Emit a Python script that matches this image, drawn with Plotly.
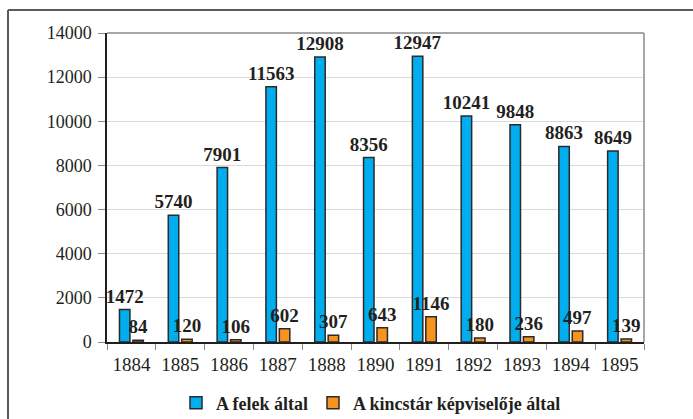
import plotly.graph_objects as go

years = ["1884", "1885", "1886", "1887", "1888", "1890", "1891", "1892", "1893", "1894", "1895"]
felek = [1472, 5740, 7901, 11563, 12908, 8356, 12947, 10241, 9848, 8863, 8649]
kincstar = [84, 120, 106, 602, 307, 643, 1146, 180, 236, 497, 139]
series_names = ["A felek által", "A kincstár képviselője által"]
y_ticks = [0, 2000, 4000, 6000, 8000, 10000, 12000, 14000]

FONT = "Liberation Serif, Times New Roman, serif"
LABEL_FONT = dict(family=FONT, size=19, color="#231f20", weight="bold")

fig = go.Figure()
fig.add_trace(go.Bar(
    x=years, y=felek, name=series_names[0],
    marker=dict(color="#00AEEF", line=dict(color="#2a2a2a", width=1.5)),
    text=[str(v) for v in felek], textposition="outside", constraintext="none",
    textfont=LABEL_FONT, cliponaxis=False,
))
fig.add_trace(go.Bar(
    x=years, y=kincstar, name=series_names[1],
    marker=dict(color="#F7941D", line=dict(color="#2a2a2a", width=1.5)),
    text=[str(v) for v in kincstar], textposition="outside", constraintext="none",
    textfont=LABEL_FONT, cliponaxis=False,
))

L, R, T, B = 107, 49, 33, 77
W, H = 693, 419
pw, ph = W - L - R, H - T - B

fig.update_layout(
    width=W, height=H,
    margin=dict(l=L, r=R, t=T, b=B, autoexpand=False),
    paper_bgcolor="white", plot_bgcolor="white",
    barmode="group", bargap=0.45, bargroupgap=0.22,
    font=dict(family=FONT, color="#231f20"),
    showlegend=True,
    legend=dict(
        orientation="h", xref="container", x=371 / W, xanchor="center",
        yref="container", y=1 - 403 / H, yanchor="middle",
        font=dict(family=FONT, size=18, color="#231f20", weight="bold"),
        traceorder="normal", itemwidth=30,
    ),
)
fig.update_xaxes(
    type="category", showline=True, linecolor="#231f20", linewidth=1.5,
    ticks="outside", tickson="boundaries", ticklen=6, tickcolor="#888",
    tickfont=dict(family=FONT, size=19, color="#231f20"), ticklabelstandoff=4,
    showgrid=False,
)
fig.update_yaxes(
    range=[0, 14000], tickvals=y_ticks, tickformat="d", ticks="outside", ticklen=7,
    tickcolor="#888", showline=True, linecolor="#231f20", linewidth=1.5,
    showgrid=True, gridcolor="#d9d9d9", gridwidth=1, ticklabelstandoff=3,
    tickfont=dict(family=FONT, size=18, color="#231f20"), zeroline=False,
)

# plot area top and right border (light gray)
fig.add_shape(type="line", xref="paper", yref="paper", x0=0, x1=1, y0=1, y1=1,
              line=dict(color="#a6a6a6", width=2))
fig.add_shape(type="line", xref="paper", yref="paper", x0=1, x1=1, y0=0, y1=1,
              line=dict(color="#a6a6a6", width=2))
# outer chart border (dark gray): only top and left edges are visible
ox = (8 - L) / pw
oy = 1 + (T - 10) / ph
fig.add_shape(type="line", xref="paper", yref="paper",
              x0=ox, x1=(W + 10 - L) / pw, y0=oy, y1=oy,
              line=dict(color="#5a5a5a", width=2), layer="below")
fig.add_shape(type="line", xref="paper", yref="paper",
              x0=ox, x1=ox, y0=oy, y1=-(B + 10) / ph,
              line=dict(color="#5a5a5a", width=2), layer="below")

fig.write_html("out.html")
